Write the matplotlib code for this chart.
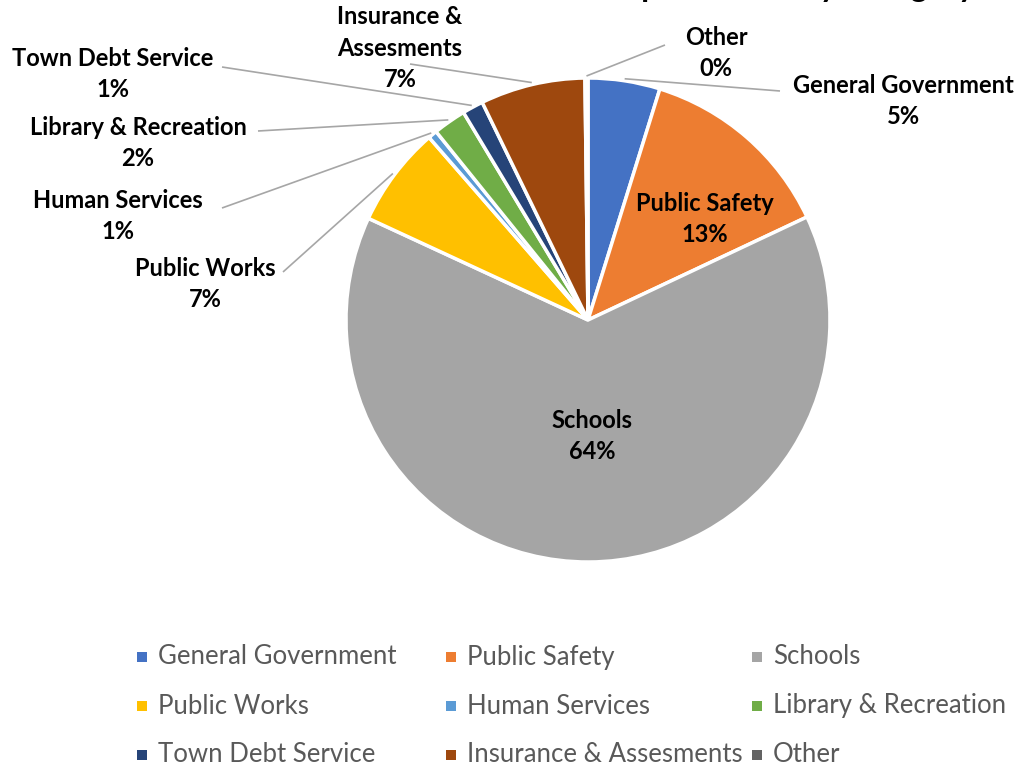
import numpy as np
import matplotlib
matplotlib.use("Agg")
import matplotlib.pyplot as plt
from matplotlib.patches import Rectangle

plt.rcParams['font.family'] = ['Lato', 'DejaVu Sans']

# spending shares, percent
categories = ['General Government', 'Public Safety', 'Schools', 'Public Works',
              'Human Services', 'Library & Recreation', 'Town Debt Service',
              'Insurance & Assesments', 'Other']
label_names = ['General Government', 'Public Safety', 'Schools', 'Public Works',
               'Human Services', 'Library & Recreation', 'Town Debt Service',
               'Insurance &\nAssesments', 'Other']
shares = [4.8, 13.2, 63.9, 6.7, 0.6, 2.2, 1.4, 7.0, 0.2]
colors = ['#4472C4', '#ED7D31', '#A5A5A5', '#FFC000', '#5B9BD5',
          '#70AD47', '#264478', '#9E480E', '#636363']

W, H = 1024, 769
def fy(y):
    # pixel row -> data y
    return H - y

fig = plt.figure(figsize=(W / 100, H / 100), dpi=100)
ax = fig.add_axes([0, 0, 1, 1])
ax.set_xlim(0, W)
ax.set_ylim(0, H)
ax.axis('off')

cx, cy, r = 588, fy(320), 242
ax.pie(shares, colors=colors, startangle=90, counterclock=False,
       center=(cx, cy), radius=r,
       wedgeprops=dict(edgecolor='white', linewidth=2.5))
ax.set_xlim(0, W)
ax.set_ylim(0, H)
ax.set_aspect('equal')

total = sum(shares)
cum = np.cumsum([0] + shares)
mids = (cum[:-1] + cum[1:]) / 2 / total

def arc_point(i, rr=r):
    a = np.deg2rad(mids[i] * 360)
    return cx + rr * np.sin(a), cy + rr * np.cos(a)

def pct(i):
    return f"{round(shares[i] / total * 100):.0f}%"

txt = dict(fontsize=17, fontweight='bold', color='black', linespacing=1.45)

# labels inside the wedges
ax.text(705, fy(219), f"{label_names[1]}\n{pct(1)}", ha='center', va='center', **txt)
ax.text(592, fy(436), f"{label_names[2]}\n{pct(2)}", ha='center', va='center', **txt)

# outside labels: (index, text centre, leader line start)
outside = [
    (0, (903, 101), (780, 91)),
    (8, (716, 53), (665, 45)),
    (7, (400, 48), (410, 64)),
    (6, (113, 74), (222, 67)),
    (5, (138, 143), (258, 131)),
    (4, (118, 216), (222, 208)),
    (3, (205, 284), (283, 272)),
]
for i, (tx, ty), (lx, ly) in outside:
    ax.text(tx, fy(ty), f"{label_names[i]}\n{pct(i)}", ha='center', va='center', **txt)
    px, py = arc_point(i, r + 2)
    ax.plot([lx, px], [fy(ly), py], color='#A6A6A6', lw=1.2, solid_capstyle='butt')

# title, mostly cut off at the top edge
ax.text(975, fy(-3), 'Expenditures by Category', ha='right', va='baseline',
        fontsize=23, fontweight='bold', color='black', clip_on=False)

# legend, three columns
col_x = [137, 446, 752]
row_y = [657, 706, 755]
for k, name in enumerate(categories):
    x0 = col_x[k % 3]
    y0 = row_y[k // 3]
    ax.add_patch(Rectangle((x0, fy(y0) - 5), 10, 10, color=colors[k], lw=0))
    ax.text(x0 + 21, fy(y0), name, ha='left', va='center', fontsize=18.5, color='#595959')

fig.savefig('out.png', dpi=100)
